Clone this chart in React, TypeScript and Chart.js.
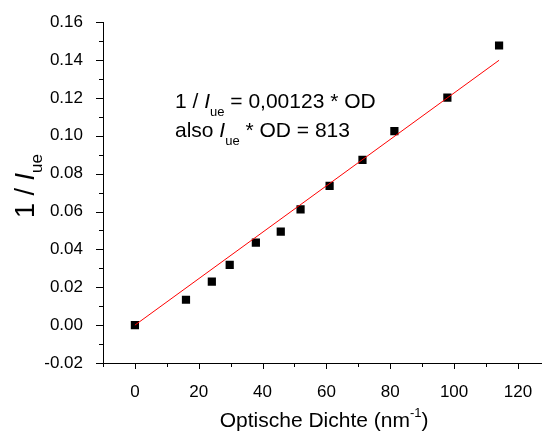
import React, { useEffect, useRef } from 'react';
import { Chart, registerables } from 'chart.js';

Chart.register(...registerables);

// ---- data ----
const opticalDensity = [0, 16.0, 24.1, 29.7, 37.9, 45.7, 51.9, 61.0, 71.3, 81.3, 97.9, 114.1];
const inverseIue = [0, 0.0134, 0.023, 0.0318, 0.0436, 0.0494, 0.0611, 0.0736, 0.0873, 0.1025, 0.1202, 0.1477];
const fitX = [0, 114.1];
const fitY = [0, 0.1399];

const xTickValues = [-10, 0, 10, 20, 30, 40, 50, 60, 70, 80, 90, 100, 110, 120];
const xLabelValues = [0, 20, 40, 60, 80, 100, 120];
const yTickValues = [-0.02, -0.01, 0, 0.01, 0.02, 0.03, 0.04, 0.05, 0.06, 0.07, 0.08, 0.09, 0.1, 0.11, 0.12, 0.13, 0.14, 0.15, 0.16];
const yLabelValues = [-0.02, 0, 0.02, 0.04, 0.06, 0.08, 0.1, 0.12, 0.14, 0.16];

const xTitle = 'Optische Dichte (nm';
const xTitleSup = '-1';
const xTitleEnd = ')';
const eqLine1 = ['1 / ', 'I', 'ue', ' = 0,00123 * OD'];
const eqLine2 = ['also ', 'I', 'ue', ' * OD = 813'];

const FONT = '"Liberation Sans", Arial, sans-serif';

type Run = { text: string; size: number; italic?: boolean; dy?: number };

function runsWidth(ctx: CanvasRenderingContext2D, runs: Run[]) {
  let w = 0;
  for (const r of runs) {
    ctx.font = `${r.italic ? 'italic ' : ''}${r.size}px ${FONT}`;
    w += ctx.measureText(r.text).width;
  }
  return w;
}

function drawRuns(ctx: CanvasRenderingContext2D, x: number, y: number, runs: Run[]) {
  let cx = x;
  ctx.textBaseline = 'alphabetic';
  ctx.textAlign = 'left';
  for (const r of runs) {
    ctx.font = `${r.italic ? 'italic ' : ''}${r.size}px ${FONT}`;
    ctx.fillText(r.text, cx, y + (r.dy || 0));
    cx += ctx.measureText(r.text).width;
  }
}

const near = (a: number, list: number[]) => list.some((v) => Math.abs(v - a) < 1e-9);

const decorPlugin = {
  id: 'decor',
  afterDraw(chart: any) {
    const ctx: CanvasRenderingContext2D = chart.ctx;
    const { left, right, bottom } = chart.chartArea;
    const xs = chart.scales.x;
    const ys = chart.scales.y;
    ctx.save();
    ctx.strokeStyle = '#000';
    ctx.fillStyle = '#000';
    ctx.lineWidth = 1;
    ctx.beginPath();
    for (const v of xTickValues) {
      const px = Math.round(xs.getPixelForValue(v)) + 0.5;
      const len = near(v, xLabelValues) ? 6 : 4;
      ctx.moveTo(px, bottom);
      ctx.lineTo(px, bottom + len);
    }
    for (const v of yTickValues) {
      const py = Math.round(ys.getPixelForValue(v)) + 0.5;
      const len = near(v, yLabelValues) ? 7 : 4;
      ctx.moveTo(left, py);
      ctx.lineTo(left - len, py);
    }
    ctx.stroke();

    // x title
    const xRuns: Run[] = [
      { text: xTitle, size: 21 },
      { text: xTitleSup, size: 13, dy: -10 },
      { text: xTitleEnd, size: 21 },
    ];
    const xw = runsWidth(ctx, xRuns);
    drawRuns(ctx, (left + right) / 2 - xw / 2 + 2, 427, xRuns);

    // y title (rotated)
    const yRuns: Run[] = [
      { text: '1 / ', size: 27 },
      { text: 'I', size: 27, italic: true },
      { text: 'ue', size: 17, dy: 8 },
    ];
    const yw = runsWidth(ctx, yRuns);
    ctx.save();
    ctx.translate(34, 186);
    ctx.rotate(-Math.PI / 2);
    drawRuns(ctx, -yw / 2, 0, yRuns);
    ctx.restore();

    // equation annotation
    drawRuns(ctx, 175, 108, [
      { text: eqLine1[0], size: 21 },
      { text: eqLine1[1], size: 21, italic: true },
      { text: eqLine1[2], size: 13, dy: 8 },
      { text: eqLine1[3], size: 21 },
    ]);
    drawRuns(ctx, 175, 137, [
      { text: eqLine2[0], size: 21 },
      { text: eqLine2[1], size: 21, italic: true },
      { text: eqLine2[2], size: 13, dy: 8 },
      { text: eqLine2[3], size: 21 },
    ]);
    ctx.restore();
  },
};

export default function App() {
  const ref = useRef<HTMLCanvasElement>(null);
  useEffect(() => {
    if (!ref.current) return;
    Chart.defaults.font.family = FONT;
    Chart.defaults.color = '#000';
    const chart = new Chart(ref.current, {
      type: 'scatter',
      data: {
        datasets: [
          {
            type: 'line',
            data: fitX.map((x, i) => ({ x, y: fitY[i] })),
            borderColor: '#ff0000',
            borderWidth: 1,
            pointRadius: 0,
            fill: false,
          } as any,
          {
            data: opticalDensity.map((x, i) => ({ x, y: inverseIue[i] })),
            pointStyle: 'rect',
            pointRadius: 5.8,
            pointHoverRadius: 5.8,
            backgroundColor: '#000',
            borderColor: '#000',
            borderWidth: 0,
          },
        ],
      },
      options: {
        responsive: false,
        animation: false,
        devicePixelRatio: 1,
        layout: { padding: { left: 0, right: 0, top: 22, bottom: 0 } },
        plugins: { legend: { display: false }, tooltip: { enabled: false } },
        scales: {
          x: {
            type: 'linear',
            min: -10,
            max: 127.3,
            grid: { display: false },
            border: { display: true, color: '#000', width: 1 },
            afterBuildTicks: (s: any) => {
              s.ticks = xTickValues.map((v) => ({ value: v }));
            },
            afterFit: (s: any) => {
              s.height = 69;
            },
            ticks: {
              autoSkip: false,
              maxRotation: 0,
              padding: 11,
              font: { size: 17 },
              color: '#000',
              callback: (v: any) => (near(Number(v), xLabelValues) ? String(v) : ''),
            },
          },
          y: {
            type: 'linear',
            min: -0.02,
            max: 0.16,
            grid: { display: false },
            border: { display: true, color: '#000', width: 1 },
            afterBuildTicks: (s: any) => {
              s.ticks = yTickValues.map((v) => ({ value: v }));
            },
            afterFit: (s: any) => {
              s.width = 103;
            },
            ticks: {
              autoSkip: false,
              padding: 12,
              font: { size: 17 },
              color: '#000',
              callback: (v: any) => (near(Number(v), yLabelValues) ? Number(v).toFixed(2) : ''),
            },
          },
        },
      },
      plugins: [decorPlugin],
    });
    return () => chart.destroy();
  }, []);
  return (
    <canvas
      ref={ref}
      width={547}
      height={432}
      style={{ position: 'fixed', left: 0, top: 0, width: 547, height: 432, background: '#fff' }}
    />
  );
}
